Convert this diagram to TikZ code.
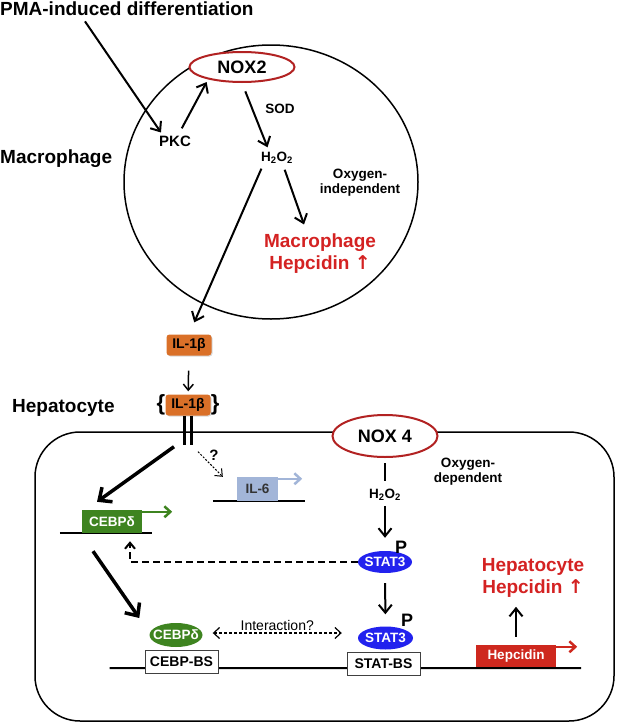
\documentclass[tikz,border=0pt]{standalone}
\usepackage{fontspec}
\setmainfont{Liberation Sans}
\newfontfamily\symfont{DejaVu Sans}
\usepackage{tikz}
\usetikzlibrary{arrows.meta,shapes.geometric,calc,backgrounds,positioning,shadows}

\definecolor{noxred}{RGB}{178,34,34}
\definecolor{hepred}{RGB}{212,34,34}
\definecolor{ilorange}{RGB}{218,112,40}
\definecolor{cebpgreen}{RGB}{62,132,32}
\definecolor{ilblue}{RGB}{162,181,216}
\definecolor{statblue}{RGB}{34,34,238}
\definecolor{hepbox}{RGB}{206,40,30}

\newcommand{\zw}[1]{\makebox[0pt]{#1}}
\newcommand{\uparr}{{\symfont ↑}}

\begin{document}
\begin{tikzpicture}[x=1pt,y=-1pt]
	\tikzstyle{title}=[font=\fontsize{19}{22}\selectfont\bfseries, inner sep=0pt]
	\tikzstyle{mid}=[font=\fontsize{15}{17}\selectfont\bfseries, inner sep=1pt]
	\tikzstyle{small}=[font=\fontsize{13.5}{15}\selectfont\bfseries, inner sep=1pt]
	\tikzstyle{redtxt}=[font=\fontsize{19}{22}\selectfont\bfseries, text=hepred, align=center, inner sep=1pt]
	\tikzstyle{nox}=[ellipse, draw=noxred, line width=2pt, fill=white, font=\fontsize{18}{20}\selectfont\bfseries, inner sep=0pt]
	\tikzstyle{ilbox}=[rounded corners=3pt, fill=ilorange, minimum width=45pt, minimum height=21pt, inner sep=0pt, font=\fontsize{14}{16}\selectfont\bfseries, drop shadow={shadow xshift=1pt, shadow yshift=-1pt, opacity=0.3}]
	\tikzstyle{gene}=[fill=#1, text=white, minimum height=23pt, inner sep=0pt, font=\fontsize{13.5}{15}\selectfont\bfseries]
	\tikzstyle{prot}=[ellipse, fill=#1, text=white, inner sep=0pt, font=\fontsize{13.5}{15}\selectfont\bfseries]
	\tikzstyle{site}=[draw=black!75, fill=white, line width=1pt, minimum width=73pt, minimum height=23pt, inner sep=0pt, font=\fontsize{14}{16}\selectfont\bfseries]
	\tikzstyle{arr}=[line width=2pt, -{Straight Barb[length=8pt,width=13pt]}]
	\tikzstyle{bigarr}=[line width=3.5pt, -{Straight Barb[length=10pt,width=18pt]}]
	\tikzstyle{thinarr}=[line width=1.5pt, -{Straight Barb[length=6pt,width=10pt]}]
	\tikzstyle{dna}=[line width=2pt]
	\tikzstyle{prom}=[draw=#1, line width=2.5pt, -{Straight Barb[length=6pt,width=11pt]}]

	\useasboundingbox (0,0) rectangle (617,723);

	% cells
	\draw [line width=1.5pt] (271,182) ellipse [x radius=147pt, y radius=137pt];
	\draw [line width=1.5pt, rounded corners=45pt] (35,432) rectangle (614,721);

	% Macrophage
	\node[title, anchor=base west] (pma) at (0,15) {PMA-induced differentiation};
	\node[title, anchor=base west] (mac) at (0,163) {Macrophage};
	\node[nox, minimum width=105pt, minimum height=30pt] (nox2) at (242,67) {NOX2};
	\node[mid] (pkc) at (175,141) {PKC};
	\node[small] (sod) at (280,109) {SOD};
	\node[small] (h2o2) at (277,158) {H\textsubscript{2}O\textsubscript{2}};
	\node[small, align=center] (oxind) at (360,183) {Oxygen-\\independent};
	\node[redtxt] (mhep) at (320,254) {Macrophage\\Hepcidin \uparr};
	\coordinate (pmaend) at ($(pma.south west)+(85,6)$);

	\draw[arr] (pmaend) -- ([xshift=3pt,yshift=2pt]pkc.north west);
	\draw[arr, shorten <=7pt, shorten >=3pt] (pkc) -- (nox2.200);
	\draw[arr, shorten <=9pt, shorten >=4pt] (nox2.south) -- ([xshift=-8pt]h2o2.north);
	\draw[arr, shorten <=5pt, shorten >=9pt] ([xshift=6pt]h2o2.south) -- ([xshift=-13pt]mhep.north);

	% IL-1beta
	\node[ilbox] (il1b) at (189,345) {IL-1β};
	\node[ilbox] (il1br) at (188,405) {IL-1β};
	\node[title, font=\fontsize{22}{24}\selectfont\bfseries, left=0pt of il1br] (lbr) {\{};
	\node[title, font=\fontsize{22}{24}\selectfont\bfseries, right=0pt of il1br] (rbr) {\}};
	\coordinate (recbot) at ($(il1br.south)+(0,29)$);
	\foreach \dx in {-3.5,3.5}{
	\draw [line width=2.5pt] ([xshift=\dx pt]il1br.south) -- ([xshift=\dx pt]recbot);}

	\draw[arr, shorten <=4pt, shorten >=13pt] ([xshift=-14pt]h2o2.south) -- (il1b.north);
	\draw[thinarr, shorten <=15pt, shorten >=3pt] (il1b) -- (il1br);

	% Hepatocyte
	\node[title, anchor=base west] (hep) at (12,412) {Hepatocyte};
	\node[nox, minimum width=105pt, minimum height=42pt] (nox4) at (385,436) {NOX 4};
	\node[small] (h2o2b) at (385,495) {H\textsubscript{2}O\textsubscript{2}};
	\node[small, align=center] (oxdep) at (468,472) {Oxygen-\\dependent};
	\node[prot=statblue, minimum width=54pt, minimum height=22pt] (stat3a) at (385,562) {\zw{STAT3}};
	\node[prot=statblue, minimum width=55pt, minimum height=23pt] (stat3b) at (385.5,638) {\zw{STAT3}};
	\node[title, font=\fontsize{18}{20}\selectfont\bfseries] (pa) at (401,547) {P};
	\node[title, font=\fontsize{18}{20}\selectfont\bfseries] (pb) at (407,620) {P};
	\node[gene=cebpgreen, minimum width=60pt] (cebpg) at (112,521.5) {CEBPδ};
	\node[gene=ilblue, text=black!80, minimum width=41pt, minimum height=24pt] (il6) at (257.5,489) {IL-6};
	\node[prot=cebpgreen, minimum width=53pt, minimum height=24pt] (cebpp) at (176,635) {\zw{CEBPδ}};
	\node[site] (cebpbs) at (181.5,661.5) {CEBP-BS};
	\node[site] (statbs) at (383.5,663.5) {STAT-BS};
	\node[gene=hepbox, minimum width=80pt, minimum height=22pt] (hepg) at (516,656) {Hepcidin};
	\node[redtxt] (hhep) at (533,578) {Hepatocyte\\Hepcidin \uparr};
	\node[mid] (q) at (214,455) {?};

	\begin{scope}[on background layer]
	\draw[dna] ([xshift=-22pt]cebpg.south west) -- ([xshift=10pt]cebpg.south east);
	\draw[dna] ([xshift=-24pt]il6.south west) -- ([xshift=27pt]il6.south east);
	\draw[dna] ($(cebpbs.west)+(-35,6.5)$) -- ($(hepg.south east)+(25,1)$);
	\end{scope}

	\draw[prom=cebpgreen] ([yshift=-2pt]cebpg.north east) -- ++(30,0);
	\draw[prom=ilblue] ([yshift=-2pt]il6.north east) -- ++(24,0);
	\draw[prom=hepbox] ([yshift=-2pt]hepg.north east) -- ++(21,0);

	\draw[line width=2pt, shorten <=5pt, shorten >=7pt] (nox4.south) -- (h2o2b.north);
	\draw[arr, shorten <=4pt, shorten >=13pt] (h2o2b.south) -- (stat3a.north);
	\draw[arr, shorten <=10pt, shorten >=12pt] (stat3a.south) -- (stat3b.north);
	\draw[line width=2pt, dash pattern=on 7pt off 4pt, -{Straight Barb[length=6pt,width=10pt]}] (stat3a.west) -| ([xshift=18pt,yshift=-8pt]cebpg.south);

	\draw[bigarr] ([xshift=-14pt,yshift=-2pt]recbot) -- ([xshift=-15pt,yshift=8pt]cebpg.north);
	\draw[line width=1pt, dash pattern=on 2pt off 1.5pt, -{Straight Barb[length=6pt,width=10pt]}] ([xshift=10pt,yshift=-7pt]recbot) -- ([xshift=-14pt]il6.north west);
	\draw[bigarr] ([xshift=-19pt,yshift=-18pt]cebpg.south) -- ([xshift=-10pt,yshift=17pt]cebpp.west);
	\draw[line width=1.2pt, dash pattern=on 3pt off 2pt, {Straight Barb[length=6pt,width=11pt]}-{Straight Barb[length=6pt,width=11pt]}] ($(cebpp.east)+(10,-2)$) -- ($(cebpp.east -| stat3b.west)+(-16,-2)$) node[midway, above=1pt, font=\fontsize{14}{16}\selectfont, inner sep=1pt] (inter) {Interaction?};
	\draw[arr] ([yshift=8pt]hepg.north) -- ++(0,-30);

\end{tikzpicture}
\end{document}
